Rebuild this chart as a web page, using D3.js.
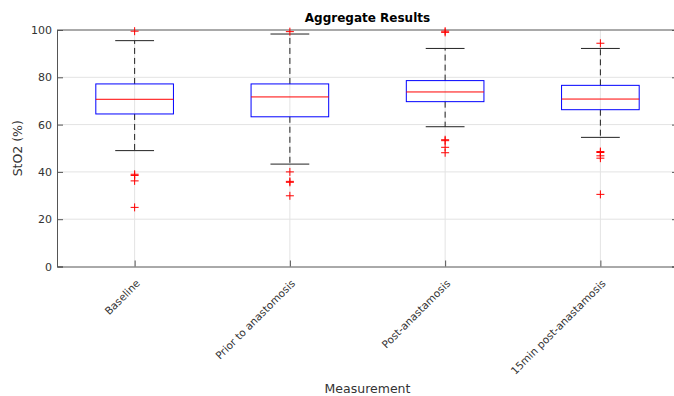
<!DOCTYPE html>
<html>
<head>
<meta charset="utf-8">
<script src="https://cdn.jsdelivr.net/npm/d3@7"></script>
<style>
  body { margin: 0; background: #fff; }
  text { font-family: "DejaVu Sans", sans-serif; }
</style>
</head>
<body>
<script>
// box plot data
var categories = ["Baseline", "Prior to anastomosis", "Post-anastamosis", "15min post-anastamosis"];
var whiskerLo = [49.0, 43.3, 59.1, 54.6];
var q1        = [64.5, 63.3, 69.7, 66.3];
var medians   = [70.7, 71.7, 73.8, 70.8];
var q3        = [77.2, 77.2, 78.6, 76.6];
var whiskerHi = [95.5, 98.3, 92.2, 92.2];
var outliers  = [
  [99.5, 39.0, 38.5, 36.2, 25.0],
  [99.3, 40.0, 36.0, 35.6, 29.9],
  [99.5, 99.0, 53.6, 53.2, 50.4, 48.1],
  [94.4, 48.6, 48.2, 46.8, 45.8, 30.5]
];
var yTicks = [0, 20, 40, 60, 80, 100];

var w = 674, h = 396;
var pLeft = 57, pRight = 678, pTop = 30, pBottom = 266.5;

var svg = d3.select("body").append("svg")
  .attr("width", w)
  .attr("height", h);

var x = d3.scaleLinear().domain([0.5, 4.5]).range([pLeft, pRight]);
var y = d3.scaleLinear().domain([0, 100]).range([pBottom, pTop]);
var boxW = x(1.25) - x(0.75);
var capW = boxW / 2;

// grid
svg.append("g").selectAll("line")
  .data(yTicks.slice(1, -1))
  .enter().append("line")
  .attr("x1", pLeft).attr("x2", pRight)
  .attr("y1", function(d) { return y(d); })
  .attr("y2", function(d) { return y(d); })
  .attr("stroke", "#e3e3e3");
svg.append("g").selectAll("line")
  .data(categories)
  .enter().append("line")
  .attr("x1", function(d, i) { return x(i + 1); })
  .attr("x2", function(d, i) { return x(i + 1); })
  .attr("y1", pTop).attr("y2", pBottom)
  .attr("stroke", "#e3e3e3");

// axes
var xAxis = d3.axisBottom(x)
  .tickValues([1, 2, 3, 4])
  .tickFormat(function(d) { return categories[d - 1]; })
  .tickSize(-6).tickPadding(4);
var gx = svg.append("g").attr("transform", "translate(0," + pBottom + ")").call(xAxis);
gx.selectAll("text")
  .attr("text-anchor", "end")
  .attr("dy", "0.5em")
  .attr("transform", "translate(-1,11) rotate(-45)");

var yAxis = d3.axisLeft(y).tickValues(yTicks).tickSize(-6).tickPadding(5);
svg.append("g").attr("transform", "translate(" + pLeft + ",0)").call(yAxis);

var yAxisR = d3.axisRight(y).tickValues(yTicks).tickSize(-6).tickFormat("");
svg.append("g").attr("transform", "translate(" + pRight + ",0)").call(yAxisR);

svg.selectAll(".domain").attr("stroke", "#555");
svg.selectAll(".tick line").attr("stroke", "#555");
svg.selectAll(".tick text").attr("fill", "#333").style("font-size", "11px");
gx.selectAll("text").style("font-size", "10.5px");

// top border
svg.append("line")
  .attr("x1", pLeft).attr("x2", pRight)
  .attr("y1", pTop).attr("y2", pTop)
  .attr("stroke", "#555");

// boxes
var g = svg.append("g").selectAll("g")
  .data(categories)
  .enter().append("g");

g.append("line")
  .attr("x1", function(d, i) { return x(i + 1); })
  .attr("x2", function(d, i) { return x(i + 1); })
  .attr("y1", function(d, i) { return y(q3[i]); })
  .attr("y2", function(d, i) { return y(whiskerHi[i]); })
  .attr("stroke", "#222").attr("stroke-dasharray", "6,4");
g.append("line")
  .attr("x1", function(d, i) { return x(i + 1); })
  .attr("x2", function(d, i) { return x(i + 1); })
  .attr("y1", function(d, i) { return y(q1[i]); })
  .attr("y2", function(d, i) { return y(whiskerLo[i]); })
  .attr("stroke", "#222").attr("stroke-dasharray", "6,4");

// caps
g.append("line")
  .attr("x1", function(d, i) { return x(i + 1) - capW / 2; })
  .attr("x2", function(d, i) { return x(i + 1) + capW / 2; })
  .attr("y1", function(d, i) { return y(whiskerHi[i]); })
  .attr("y2", function(d, i) { return y(whiskerHi[i]); })
  .attr("stroke", "#222");
g.append("line")
  .attr("x1", function(d, i) { return x(i + 1) - capW / 2; })
  .attr("x2", function(d, i) { return x(i + 1) + capW / 2; })
  .attr("y1", function(d, i) { return y(whiskerLo[i]); })
  .attr("y2", function(d, i) { return y(whiskerLo[i]); })
  .attr("stroke", "#222");

g.append("rect")
  .attr("x", function(d, i) { return x(i + 1) - boxW / 2; })
  .attr("y", function(d, i) { return y(q3[i]); })
  .attr("width", boxW)
  .attr("height", function(d, i) { return y(q1[i]) - y(q3[i]); })
  .attr("fill", "none")
  .attr("stroke", "#0000ff");

g.append("line")
  .attr("x1", function(d, i) { return x(i + 1) - boxW / 2; })
  .attr("x2", function(d, i) { return x(i + 1) + boxW / 2; })
  .attr("y1", function(d, i) { return y(medians[i]); })
  .attr("y2", function(d, i) { return y(medians[i]); })
  .attr("stroke", "#ff0000");

// outliers as red plus marks
var pts = [];
outliers.forEach(function(arr, i) {
  arr.forEach(function(v) { pts.push([i + 1, v]); });
});
svg.append("g").selectAll("path")
  .data(pts)
  .enter().append("path")
  .attr("d", function(d) {
    var cx = x(d[0]), cy = y(d[1]), s = 4;
    return "M" + (cx - s) + "," + cy + "H" + (cx + s) + "M" + cx + "," + (cy - s) + "V" + (cy + s);
  })
  .attr("stroke", "#ff0000")
  .attr("fill", "none");

// title & labels
svg.append("text")
  .attr("x", (pLeft + pRight) / 2).attr("y", 22)
  .attr("text-anchor", "middle")
  .style("font-size", "12px").style("font-weight", "bold")
  .attr("fill", "#000")
  .text("Aggregate Results");

svg.append("text")
  .attr("transform", "translate(22," + ((pTop + pBottom) / 2) + ") rotate(-90)")
  .attr("text-anchor", "middle")
  .style("font-size", "12.5px")
  .attr("fill", "#333")
  .text("StO2 (%)");

svg.append("text")
  .attr("x", (pLeft + pRight) / 2).attr("y", 393)
  .attr("text-anchor", "middle")
  .style("font-size", "12.5px")
  .attr("fill", "#333")
  .text("Measurement");
</script>
</body>
</html>
